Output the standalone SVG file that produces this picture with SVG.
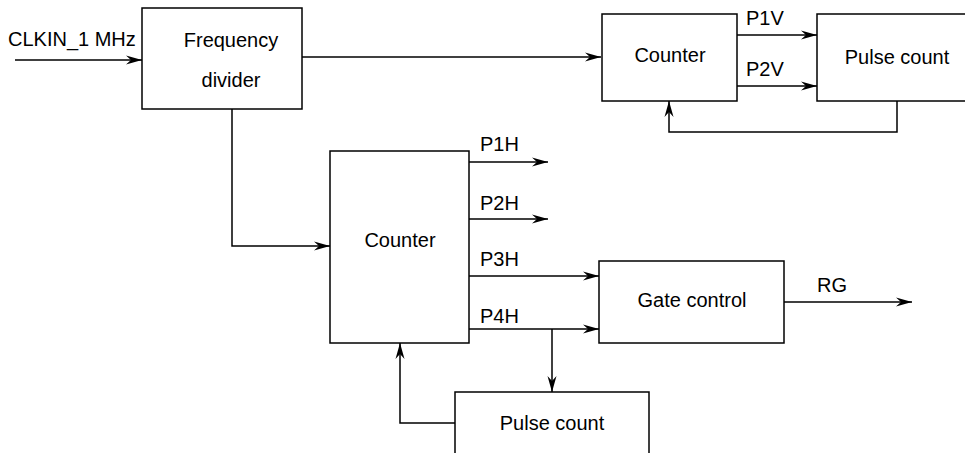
<svg xmlns="http://www.w3.org/2000/svg" width="965" height="453" viewBox="0 0 965 453">
<style>
.box{fill:#fff;stroke:#000;stroke-width:1.5}
.ln{fill:none;stroke:#000;stroke-width:1.5}
text{font-family:"Liberation Sans",Arial,sans-serif;font-size:20px;fill:#000}
.c{text-anchor:middle}
</style>
<defs>
<marker id="a" markerUnits="userSpaceOnUse" markerWidth="18" markerHeight="12" viewBox="-17 -6 18 12" refX="0" refY="0" orient="auto">
<path d="M-16,-4.5 L0,0 L-16,4.5 L-11,0 Z" fill="#000"/>
</marker>
</defs>
<g id="connectors">
<path class="ln" d="M15,60 H142" marker-end="url(#a)"/>
<path class="ln" d="M302,57 H601" marker-end="url(#a)"/>
<path class="ln" d="M737,35 H817" marker-end="url(#a)"/>
<path class="ln" d="M737,86 H817" marker-end="url(#a)"/>
<path class="ln" d="M897,101 V132 H669 V101" marker-end="url(#a)"/>
<path class="ln" d="M232,109 V246 H330" marker-end="url(#a)"/>
<path class="ln" d="M469,162 H548" marker-end="url(#a)"/>
<path class="ln" d="M469,219 H548" marker-end="url(#a)"/>
<path class="ln" d="M469,276 H599" marker-end="url(#a)"/>
<path class="ln" d="M469,329 H599" marker-end="url(#a)"/>
<path class="ln" d="M552,329 V392" marker-end="url(#a)"/>
<path class="ln" d="M455,423 H400 V343" marker-end="url(#a)"/>
<path class="ln" d="M784,302 H912" marker-end="url(#a)"/>
</g>
<g id="labels">
<text x="8" y="46">CLKIN_1 MHz</text>
<text x="746" y="25">P1V</text>
<text x="746" y="76">P2V</text>
<text x="480" y="151">P1H</text>
<text x="480" y="210">P2H</text>
<text x="480" y="266">P3H</text>
<text x="480" y="323">P4H</text>
<text x="817" y="292">RG</text>
</g>
<g id="freq-divider">
<rect class="box" x="142" y="8" width="160" height="101"/>
<text class="c" x="231" y="47">Frequency</text>
<text class="c" x="231" y="87">divider</text>
</g>
<g id="counter-v">
<rect class="box" x="602" y="14" width="135" height="87"/>
<text class="c" x="670" y="62">Counter</text>
</g>
<g id="pulse-count-v">
<rect class="box" x="817" y="14" width="161" height="87"/>
<text class="c" x="897" y="64">Pulse count</text>
</g>
<g id="counter-h">
<rect class="box" x="330" y="151" width="139" height="192"/>
<text class="c" x="400" y="247">Counter</text>
</g>
<g id="gate-control">
<rect class="box" x="599" y="261" width="185" height="82"/>
<text class="c" x="692" y="307">Gate control</text>
</g>
<g id="pulse-count-h">
<rect class="box" x="455" y="392" width="194" height="70"/>
<text class="c" x="552" y="430">Pulse count</text>
</g>
</svg>
